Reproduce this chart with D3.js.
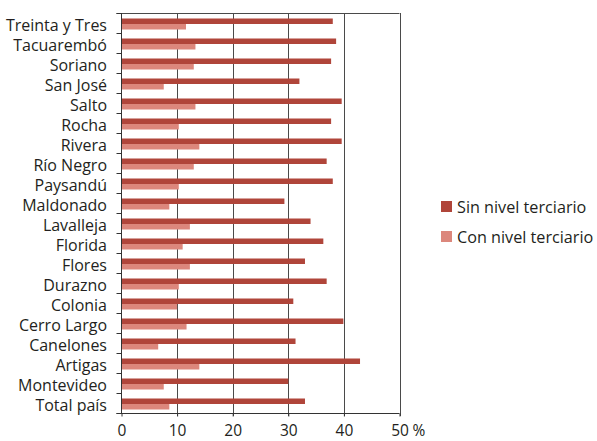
<!DOCTYPE html>
<html><head><meta charset="utf-8">
<script src="https://cdn.jsdelivr.net/npm/d3@7"></script>
<style>body{margin:0;background:#fff}svg{display:block}text{font-family:"Open Sans",sans-serif;fill:#231f20}</style>
</head><body><svg id="c" width="597" height="441"></svg>
<script>
const categories = ["Treinta y Tres","Tacuarembó","Soriano","San José","Salto","Rocha","Rivera","Río Negro","Paysandú","Maldonado","Lavalleja","Florida","Flores","Durazno","Colonia","Cerro Largo","Canelones","Artigas","Montevideo","Total país"];
const sinTerciario = [38.0,38.6,37.7,32.0,39.6,37.7,39.6,36.9,38.0,29.3,34.0,36.3,33.0,36.9,30.9,39.9,31.3,42.9,30.0,33.0];
const conTerciario = [11.6,13.3,13.0,7.6,13.3,10.3,14.0,13.0,10.3,8.6,12.3,11.0,12.3,10.3,10.0,11.7,6.6,14.0,7.6,8.6];
const seriesNames = ["Sin nivel terciario","Con nivel terciario"];
const colors = ["#b0453a","#dc877c"];
const xTicks = [0,10,20,30,40,50];

const svg = d3.select("#c");
const L=121.5, R=399.5, T=13, B=413;
const x = d3.scaleLinear().domain([0,50]).range([L,R]);
const y = d3.scaleBand().domain(categories).range([T,B]);

// gridlines
svg.append("g").selectAll("line").data(xTicks.slice(1)).join("line")
  .attr("x1",d=>Math.round(x(d))+0.5).attr("x2",d=>Math.round(x(d))+0.5)
  .attr("y1",T).attr("y2",B+3).attr("stroke","#4a4a4a").attr("stroke-width",1);
// top frame line
svg.append("line").attr("x1",L-5).attr("x2",R).attr("y1",T+0.5).attr("y2",T+0.5).attr("stroke","#4a4a4a");

const bw = y.bandwidth();
const g = svg.append("g");
categories.forEach((c,i)=>{
  const y0 = y(c);
  g.append("rect").attr("x",x(0)).attr("y",y0+5.5).attr("width",x(sinTerciario[i])-x(0)).attr("height",5.5)
    .attr("fill",colors[0]);
  g.append("rect").attr("x",x(0)).attr("y",y0+11).attr("width",x(conTerciario[i])-x(0)).attr("height",5.5)
    .attr("fill",colors[1]);
});

// y axis
const ya = svg.append("g").attr("transform",`translate(${L},0)`);
ya.append("line").attr("x1",0).attr("x2",0).attr("y1",T).attr("y2",B).attr("stroke","#333");
ya.selectAll("line.tk").data(d3.range(categories.length+1)).join("line").attr("class","tk")
  .attr("x1",-5).attr("x2",0).attr("y1",i=>Math.round(T+i*bw)+0.5).attr("y2",i=>Math.round(T+i*bw)+0.5).attr("stroke","#333");
svg.append("g").selectAll("text").data(categories).join("text")
  .attr("x",107).attr("y",d=>y(d)+bw/2+8.3).attr("text-anchor","end").attr("font-size",16).text(d=>d);

// x axis
const xa = svg.append("g").attr("transform",`translate(0,${B+0.5})`)
  .call(d3.axisBottom(x).tickValues(xTicks).tickSize(3).tickFormat(d=>d));
xa.select(".domain").attr("stroke","#333").attr("d",`M${L-5},0H${R}`);
xa.selectAll(".tick line").attr("stroke","#333");
xa.selectAll(".tick text").attr("font-size",15.5).attr("dy",0).attr("y",22.5).attr("font-family",'"Open Sans",sans-serif').attr("fill","#231f20");
svg.append("text").attr("x",R+13).attr("y",B+23).attr("font-size",15.5).text("%");

// legend
const lg = svg.append("g");
seriesNames.forEach((s,i)=>{
  lg.append("rect").attr("x",441).attr("y",201+i*30).attr("width",11).attr("height",11).attr("fill",colors[i]);
  lg.append("text").attr("x",457).attr("y",212.5+i*30).attr("font-size",16.2).text(s);
});
</script></body></html>
